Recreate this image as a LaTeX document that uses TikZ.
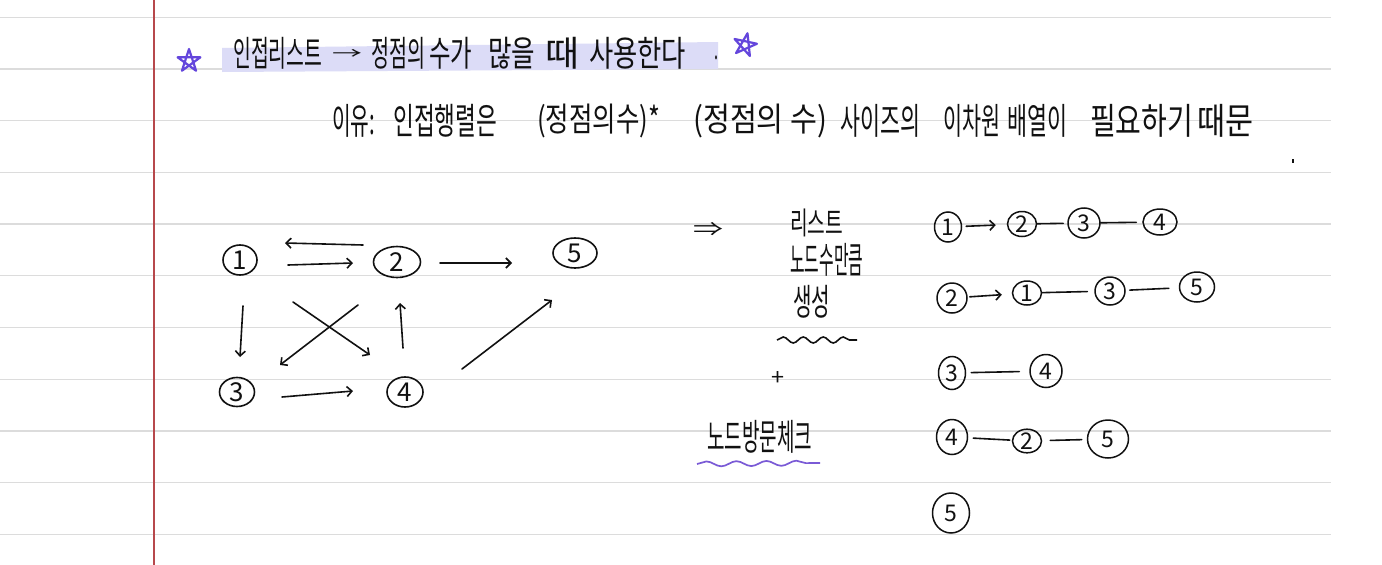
\documentclass[tikz,border=0pt]{standalone}
\usepackage{fontspec}
\usepackage{graphicx}
\newfontfamily\kr{Noto Sans CJK KR}
\usetikzlibrary{arrows.meta,shapes.geometric,decorations.pathmorphing}
\definecolor{ruleline}{HTML}{DCDCDC}
\definecolor{marginred}{HTML}{B7484C}
\definecolor{hilite}{HTML}{DCDCF7}
\definecolor{starpurple}{HTML}{6446DC}
\definecolor{wavepurple}{HTML}{7A5AD6}
\definecolor{ink}{HTML}{111111}
\newcommand{\hwtext}[3]{\resizebox*{#1}{#2}{\kr #3}}
\begin{document}
\begin{tikzpicture}[x=1pt,y=-1pt,
  w/.style={inner sep=0pt, anchor=west, text=ink},
  cn/.style={draw=ink, ellipse, line width=1.6pt, inner sep=0pt, text=ink, font=\kr\fontsize{26}{26}\selectfont},
  ln/.style={draw=ink, ellipse, line width=1.5pt, inner sep=0pt, text=ink, font=\kr\fontsize{23}{23}\selectfont},
  arr/.style={draw=ink, line width=1.6pt, line cap=round, -{Straight Barb[length=5pt,width=10pt]}},
  edge/.style={draw=ink, line width=1.6pt, line cap=round},
  pentastar/.pic={\draw[starpurple, line width=2.2pt, line join=round]
     (-90:12) -- (54:12) -- (198:12) -- (-18:12) -- (126:12) -- cycle;}
]
\useasboundingbox (0,0) rectangle (1382,565);
\fill[white] (0,0) rectangle (1382,565);
% paper
\foreach \yy in {17.3,69,120.7,172.4,224.1,275.8,327.5,379.2,430.9,482.6,534.3}
  \draw[ruleline, line width=1.3pt] (0,\yy) -- (1331,\yy);
\draw[marginred, line width=2.5pt] (154,0) -- (154,565);

% title
\fill[hilite] (222,48) -- (718,42) -- (718,69) -- (222,72) -- cycle;
\pic at (189,61) {pentastar};
\pic[rotate=-12] at (745,45) {pentastar};
\node[w] (t1) at (233,53) {\hwtext{89pt}{32pt}{인접리스트}};
\node[w] (t2) at (332,54) {\hwtext{30pt}{10pt}{→}};
\node[w] (t3) at (371,53) {\hwtext{54pt}{32pt}{정점의}};
\node[w] (t4) at (429,53) {\hwtext{43pt}{32pt}{수가}};
\node[w] (t5) at (488,53) {\hwtext{47pt}{32pt}{많을}};
\node[w] (t6) at (545,53) {\hwtext{34pt}{32pt}{때}};
\node[w] (t7) at (589,53) {\hwtext{97pt}{32pt}{사용한다}};
\node[w] (t8) at (714,58) {\hwtext{4pt}{4pt}{.}};

% reason line
\node[w] (l1) at (332,121) {\hwtext{43pt}{33pt}{이유:}};
\node[w] (l2) at (393,121) {\hwtext{104pt}{33pt}{인접행렬은}};
\node[w] (l3) at (537,121) {\hwtext{123pt}{34pt}{(정점의수)*}};
\node[w] (l4) at (693,121) {\hwtext{134pt}{34pt}{(정점의 수)}};
\node[w] (l5) at (840,121) {\hwtext{80pt}{33pt}{사이즈의}};
\node[w] (l6) at (943,121) {\hwtext{57pt}{33pt}{이차원}};
\node[w] (l7) at (1007,121) {\hwtext{60pt}{33pt}{배열이}};
\node[w] (l8) at (1090,121) {\hwtext{103pt}{33pt}{필요하기}};
\node[w] (l9) at (1197,121) {\hwtext{56pt}{33pt}{때문}};
\draw[ink, line width=1.4pt] (1293,159) -- (1293,163);

% graph
\node[cn, minimum width=34pt, minimum height=30pt] (g1) at (240,260) {1};
\node[cn, minimum width=47pt, minimum height=31pt] (g2) at (397,262) {2};
\node[cn, minimum width=44pt, minimum height=30pt] (g5) at (575,253) {5};
\node[cn, minimum width=35pt, minimum height=29pt] (g3) at (237,392) {3};
\node[cn, minimum width=36pt, minimum height=30pt] (g4) at (405,392) {4};
\coordinate (a21s) at (363,245); \coordinate (a21e) at (285,243);
\coordinate (a12s) at (288,265); \coordinate (a12e) at (353,263);
\coordinate (a25s) at (440,263); \coordinate (a25e) at (512,263);
\coordinate (a13s) at (243,306); \coordinate (a13e) at (240,357);
\coordinate (a14s) at (293,302); \coordinate (a14e) at (370,355);
\coordinate (a23s) at (358,305); \coordinate (a23e) at (280,365);
\coordinate (a42s) at (403,348); \coordinate (a42e) at (400,303);
\coordinate (a34s) at (282,397); \coordinate (a34e) at (353,391);
\coordinate (a45s) at (462,369); \coordinate (a45e) at (552,300);
\draw[arr] (a21s) -- (a21e);
\draw[arr] (a12s) -- (a12e);
\draw[arr] (a25s) -- (a25e);
\draw[arr] (a13s) -- (a13e);
\draw[arr] (a14s) -- (a14e);
\draw[arr] (a23s) -- (a23e);
\draw[arr] (a42s) -- (a42e);
\draw[arr] (a34s) -- (a34e);
\draw[arr] (a45s) -- (a45e);

% middle notes
\node[w] (imp) at (693,229) {\hwtext{30pt}{14pt}{⇒}};
\node[w] (m1) at (790,223) {\hwtext{53pt}{28pt}{리스트}};
\node[w] (m2) at (790,260) {\hwtext{73pt}{33pt}{노드수만큼}};
\node[w] (m3) at (793,302) {\hwtext{37pt}{33pt}{생성}};
\draw[ink, line width=1.6pt, decorate, decoration={snake, amplitude=3pt, segment length=20pt}] (777,340) -- (857,340);
\node[w] (plus) at (771,378) {\hwtext{13pt}{14pt}{+}};
\node[w] (m4) at (707,437) {\hwtext{105pt}{33pt}{노드방문체크}};
\draw[wavepurple, line width=1.7pt, decorate, decoration={snake, amplitude=2.5pt, segment length=30pt}] (697,464) -- (820,463);

% adjacency lists
\node[ln, minimum width=27pt, minimum height=30pt] (r1a) at (948,227) {1};
\node[ln, minimum width=29pt, minimum height=25pt] (r1b) at (1022,224) {2};
\node[ln, minimum width=32pt, minimum height=30pt] (r1c) at (1084,223) {3};
\node[ln, minimum width=34pt, minimum height=26pt] (r1d) at (1160,222) {4};
\node[ln, minimum width=30pt, minimum height=30pt] (r2a) at (952,298) {2};
\node[ln, minimum width=29pt, minimum height=24pt] (r2b) at (1027,293) {1};
\node[ln, minimum width=30pt, minimum height=28pt] (r2c) at (1110,291) {3};
\node[ln, minimum width=35pt, minimum height=30pt] (r2d) at (1197,287) {5};
\node[ln, minimum width=27pt, minimum height=33pt] (r3a) at (952,373) {3};
\node[ln, minimum width=32pt, minimum height=33pt] (r3b) at (1046,371) {4};
\node[ln, minimum width=31pt, minimum height=35pt] (r4a) at (952,437) {4};
\node[ln, minimum width=29pt, minimum height=23pt] (r4b) at (1027,441) {2};
\node[ln, minimum width=41pt, minimum height=38pt] (r4c) at (1108,439) {5};
\node[ln, minimum width=37pt, minimum height=40pt] (r5a) at (951,513) {5};
\draw[arr, shorten <=4pt, shorten >=11pt] (r1a) -- (r1b);
\draw[edge, shorten >=4pt] (r1b) -- (r1c);
\draw[edge, shorten >=6pt] (r1c) -- (r1d);
\draw[arr, shorten <=2pt, shorten >=10pt] (r2a) -- (r2b);
\draw[edge, shorten >=7pt] (r2b) -- (r2c);
\draw[edge, shorten <=4pt, shorten >=10pt] (r2c) -- (r2d);
\draw[edge, shorten <=5pt, shorten >=10pt] (r3a) -- (r3b);
\draw[edge, shorten <=5pt, shorten >=2pt] (r4a) -- (r4b);
\draw[edge, shorten <=8pt, shorten >=5pt] (r4b) -- (r4c);
\end{tikzpicture}
\end{document}
